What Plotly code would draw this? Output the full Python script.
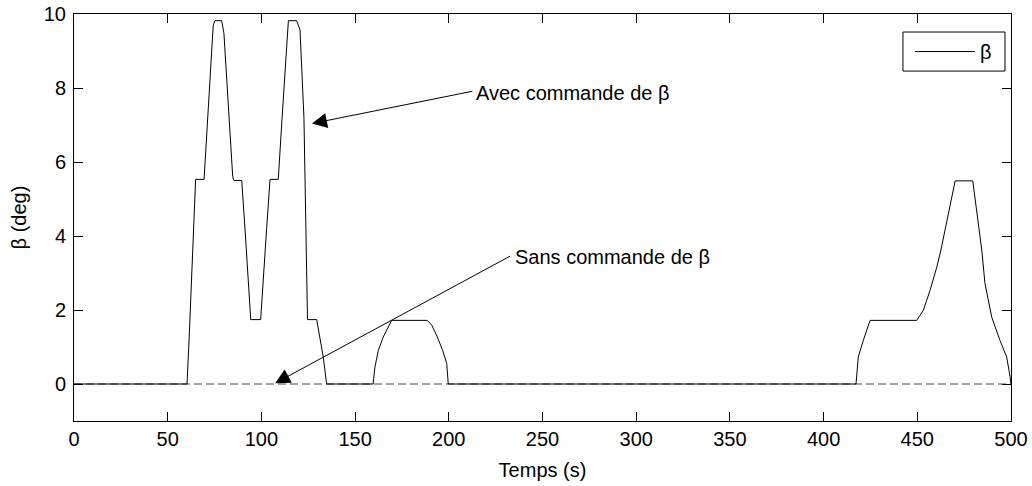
import plotly.graph_objects as go

# Avec commande de beta (time in s, beta in deg)
t_avec = [0, 60.3, 61.5, 63.2, 64.9, 69.4, 71.0, 72.8, 74.3, 75.2, 78.8, 80.0, 82.3, 84.7, 85.4,
          89.5, 91.5, 93.0, 94.3, 99.6, 101.0, 102.8, 104.6, 109.0, 110.8, 112.7, 114.4, 118.8,
          120.6, 122.7, 123.3, 124.2, 124.6, 129.5, 131.2, 133.0, 134.8,
          159.6, 160.6, 162.4, 165.0, 167.7, 169.5, 188.5, 190.9, 193.9, 196.7, 198.9, 199.7,
          417.3, 418.5, 421.2, 424.8, 449.7, 453.2, 456.8, 460.4, 462.6, 466.5, 470.2, 479.6,
          482.0, 484.4, 486.1, 489.7, 494.1, 497.7, 499.5, 500]
b_avec = [0, 0, 1.3, 3.4, 5.53, 5.53, 6.8, 8.2, 9.7, 9.82, 9.82, 9.48, 7.6, 5.6, 5.5,
          5.5, 4.0, 2.8, 1.74, 1.74, 2.9, 4.2, 5.53, 5.53, 7.0, 8.5, 9.82, 9.82,
          9.57, 7.2, 5.5, 1.86, 1.74, 1.74, 1.2, 0.73, 0.0,
          0.0, 0.46, 0.91, 1.27, 1.54, 1.72, 1.72, 1.59, 1.27, 0.91, 0.55, 0.0,
          0.0, 0.73, 1.18, 1.72, 1.72, 1.99, 2.53, 3.16, 3.62, 4.55, 5.49, 5.49,
          4.6, 3.62, 2.72, 1.81, 1.18, 0.73, 0.2, 0.0]

# Sans commande de beta
t_sans = [0, 500]
b_sans = [0, 0]

x_ticks = [0, 50, 100, 150, 200, 250, 300, 350, 400, 450, 500]
y_ticks = [0, 2, 4, 6, 8, 10]

legend_label = "β"

FONT = "Liberation Sans, Arial, Helvetica, sans-serif"

fig = go.Figure()
fig.add_trace(go.Scatter(x=t_sans, y=b_sans, mode="lines", showlegend=False,
                         line=dict(color="#444444", width=1, dash="8px,4px")))
fig.add_trace(go.Scatter(x=t_avec, y=b_avec, mode="lines", name=legend_label, showlegend=False,
                         line=dict(color="black", width=1)))

# arrows
fig.add_annotation(x=127.0, y=7.04, ax=213.4, ay=7.92, xref="x", yref="y", axref="x", ayref="y",
                   text="", showarrow=True, arrowhead=2, arrowsize=3, arrowwidth=1, arrowcolor="black")
fig.add_annotation(x=107.3, y=0.02, ax=233.6, ay=3.48, xref="x", yref="y", axref="x", ayref="y",
                   text="", showarrow=True, arrowhead=2, arrowsize=3, arrowwidth=1, arrowcolor="black")
fig.add_annotation(x=213.5, y=7.86, xref="x", yref="y", text="Avec commande de β", showarrow=False,
                   xanchor="left", yanchor="middle", font=dict(size=20, color="black", family=FONT))
fig.add_annotation(x=234.0, y=3.42, xref="x", yref="y", text="Sans commande de β", showarrow=False,
                   xanchor="left", yanchor="middle", font=dict(size=20, color="black", family=FONT))

# legend box drawn in paper coordinates
L0, L1 = 0.8847, 0.9936
T0, T1 = 0.9557, 0.8598
fig.add_shape(type="rect", xref="paper", yref="paper", x0=L0, x1=L1, y0=T1, y1=T0,
              line=dict(color="black", width=1), fillcolor="white")
fig.add_shape(type="line", xref="paper", yref="paper", x0=0.8975, x1=0.9615, y0=0.9078, y1=0.9078,
              line=dict(color="black", width=1))
fig.add_annotation(x=0.9647, y=0.9078, xref="paper", yref="paper", text=legend_label, showarrow=False,
                   xanchor="left", yanchor="middle", font=dict(size=20, color="black", family=FONT))

axis_common = dict(showline=True, linecolor="black", linewidth=1, mirror="ticks",
                   ticks="inside", ticklen=9, tickcolor="black", tickwidth=1,
                   showgrid=False, zeroline=False, automargin=False,
                   tickfont=dict(size=20, color="black", family=FONT))

fig.update_xaxes(range=[0, 500], tickvals=x_ticks, ticktext=[str(v) for v in x_ticks],
                 ticklabelstandoff=0,
                 title=dict(text="Temps (s)", font=dict(size=20, color="black", family=FONT), standoff=13),
                 **axis_common)
fig.update_yaxes(range=[-1, 10], tickvals=y_ticks, ticktext=[str(v) for v in y_ticks],
                 ticklabelstandoff=3,
                 title=dict(text="β (deg)", font=dict(size=20, color="black", family=FONT), standoff=11),
                 **axis_common)

fig.update_layout(
    width=1032, height=486,
    margin=dict(l=74, r=21, t=14, b=65),
    paper_bgcolor="white", plot_bgcolor="white",
    font=dict(family=FONT, size=20, color="black"),
    showlegend=False,
)

fig.write_html("out.html", config={"displayModeBar": False},
               post_script="document.body.style.margin='0';document.body.style.overflow='hidden';")
